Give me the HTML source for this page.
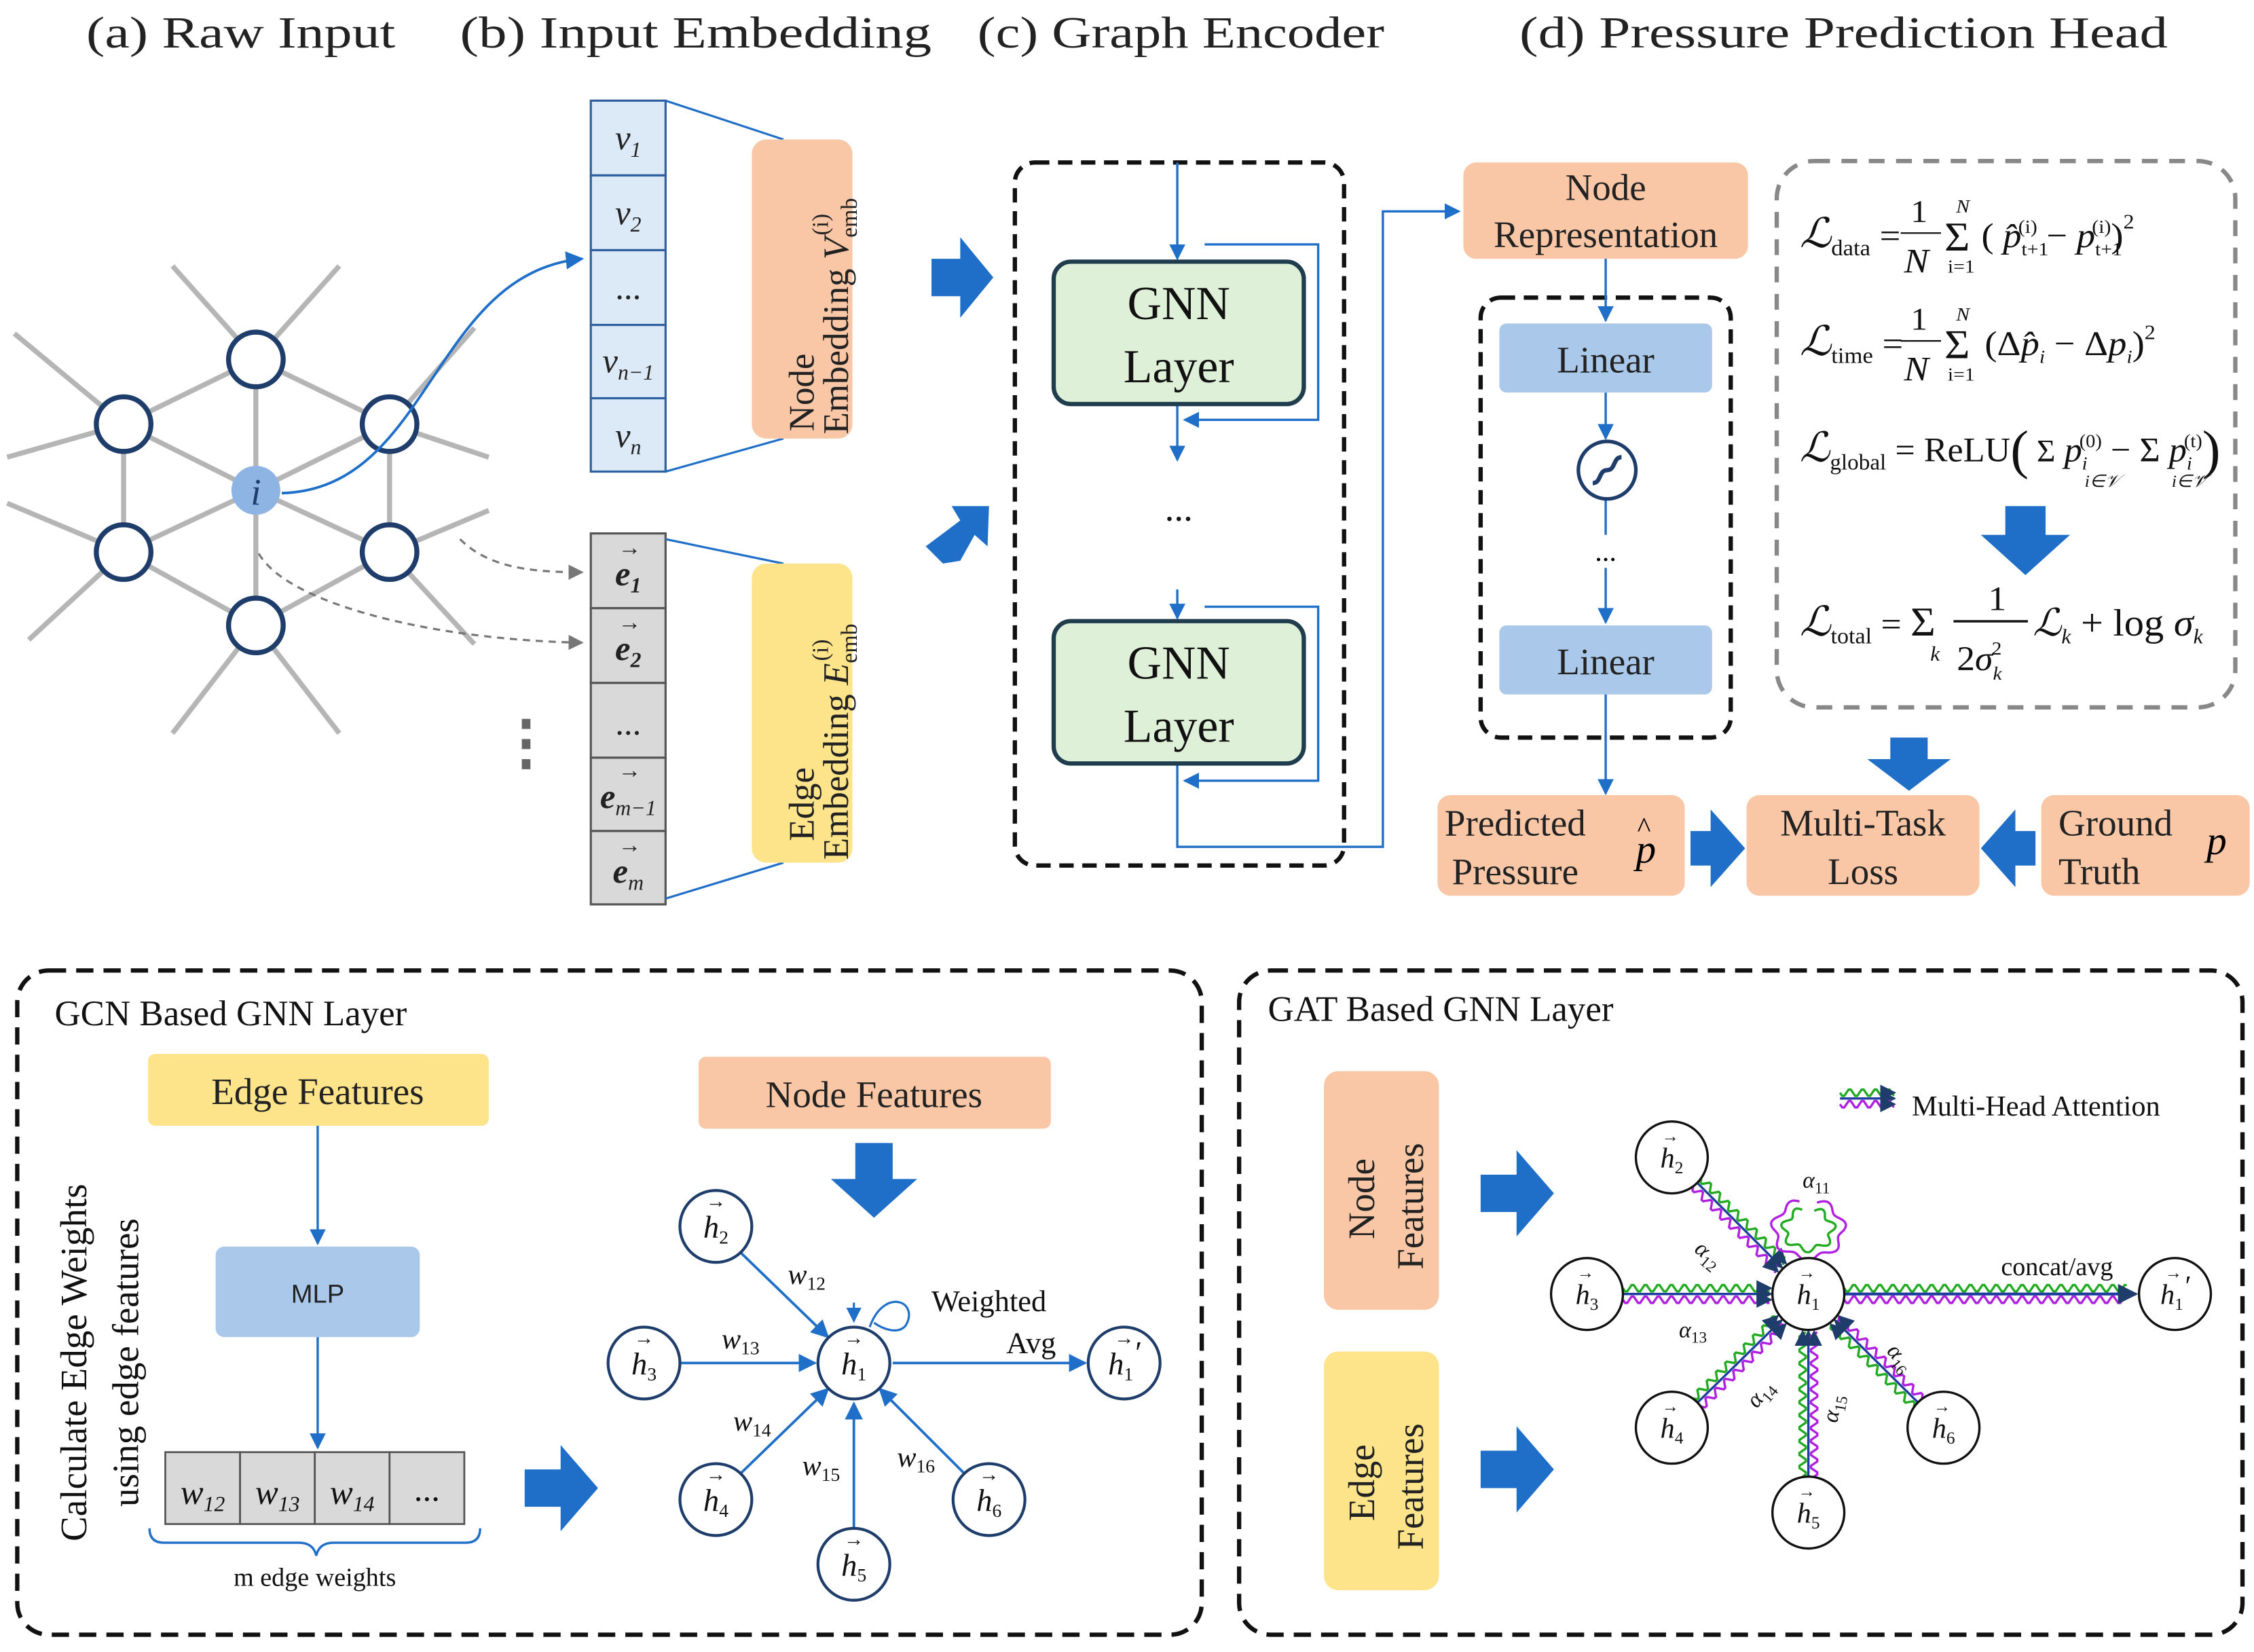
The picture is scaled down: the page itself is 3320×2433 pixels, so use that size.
<!DOCTYPE html>
<html><head><meta charset="utf-8">
<style>
html,body{margin:0;padding:0;background:#fff;}
svg{display:block;}
text{font-family:"Liberation Serif",serif;}
.t{font-size:31px;fill:#222;}
.m{font-family:"Liberation Serif",serif;font-style:italic;}
</style></head>
<body>
<svg id="s" width="3320" height="2433" viewBox="0 0 1568 1149" preserveAspectRatio="none" xmlns="http://www.w3.org/2000/svg">
<defs>
<marker id="ab" viewBox="0 0 10 10" refX="9" refY="5" markerWidth="7" markerHeight="7" orient="auto-start-reverse"><path d="M0,0 L10,5 L0,10 z" fill="#1f6fc8"/></marker>
<marker id="ad" viewBox="0 0 10 10" refX="9" refY="5" markerWidth="7" markerHeight="7" orient="auto"><path d="M0,0 L10,5 L0,10 z" fill="#1f3d6b"/></marker>
<marker id="ag" viewBox="0 0 10 10" refX="9" refY="5" markerWidth="7" markerHeight="7" orient="auto"><path d="M0,0 L10,5 L0,10 z" fill="#777"/></marker>
</defs>

<text x="60" y="33" class="t" textLength="215" lengthAdjust="spacingAndGlyphs">(a) Raw Input</text>
<text x="320" y="33" class="t" textLength="328" lengthAdjust="spacingAndGlyphs">(b) Input Embedding</text>
<text x="680" y="33" class="t" textLength="283" lengthAdjust="spacingAndGlyphs">(c) Graph Encoder</text>
<text x="1057" y="33" class="t" textLength="451" lengthAdjust="spacingAndGlyphs">(d) Pressure Prediction Head</text>

<g stroke="#b5b5b5" stroke-width="3.5">
<line x1="178" y1="341" x2="178" y2="250"/><line x1="178" y1="341" x2="86" y2="295"/><line x1="178" y1="341" x2="271" y2="295"/>
<line x1="178" y1="341" x2="86" y2="384"/><line x1="178" y1="341" x2="271" y2="384"/><line x1="178" y1="341" x2="178" y2="435"/>
<line x1="178" y1="250" x2="86" y2="295"/><line x1="178" y1="250" x2="271" y2="295"/><line x1="86" y1="295" x2="86" y2="384"/>
<line x1="271" y1="295" x2="271" y2="384"/><line x1="86" y1="384" x2="178" y2="435"/><line x1="271" y1="384" x2="178" y2="435"/>
<line x1="178" y1="250" x2="120" y2="185"/><line x1="178" y1="250" x2="236" y2="185"/>
<line x1="86" y1="295" x2="10" y2="232"/><line x1="86" y1="295" x2="5" y2="318"/>
<line x1="271" y1="295" x2="330" y2="228"/><line x1="271" y1="295" x2="340" y2="318"/>
<line x1="86" y1="384" x2="5" y2="350"/><line x1="86" y1="384" x2="20" y2="445"/>
<line x1="271" y1="384" x2="340" y2="355"/><line x1="271" y1="384" x2="330" y2="448"/>
<line x1="178" y1="435" x2="120" y2="510"/><line x1="178" y1="435" x2="236" y2="510"/>
</g>
<g fill="#fff" stroke="#1f3d6b" stroke-width="3.5">
<circle cx="178" cy="250" r="19"/><circle cx="86" cy="295" r="19"/><circle cx="271" cy="295" r="19"/>
<circle cx="86" cy="384" r="19"/><circle cx="271" cy="384" r="19"/><circle cx="178" cy="435" r="19"/>
</g>
<circle cx="178" cy="341" r="17" fill="#8eb4e3"/>
<text x="178" y="351" text-anchor="middle" class="m" font-size="26" fill="#1f3d6b">i</text>
<path d="M196,343 C300,340 300,190 405,180" fill="none" stroke="#1f6fc8" stroke-width="1.8" marker-end="url(#ab)"/>
<path d="M320,375 C340,395 370,398 405,398" fill="none" stroke="#777" stroke-width="1.5" stroke-dasharray="5,4" marker-end="url(#ag)"/>
<path d="M180,385 C200,420 300,445 405,447" fill="none" stroke="#777" stroke-width="1.5" stroke-dasharray="5,4" marker-end="url(#ag)"/>
<g fill="#666"><rect x="363" y="500" width="6" height="7"/><rect x="363" y="514" width="6" height="7"/><rect x="363" y="528" width="6" height="7"/></g>

<g stroke="#2e5f9e" stroke-width="1.5" fill="#dce9f6">
<rect x="411" y="70" width="52" height="52"/><rect x="411" y="122" width="52" height="52"/><rect x="411" y="174" width="52" height="52"/><rect x="411" y="226" width="52" height="51"/><rect x="411" y="277" width="52" height="51"/>
</g>
<g class="m" font-size="24" fill="#222" text-anchor="middle">
<text x="437" y="104">v<tspan font-size="15" dy="5">1</tspan></text>
<text x="437" y="156">v<tspan font-size="15" dy="5">2</tspan></text>
<text x="437" y="208" font-style="normal">...</text>
<text x="437" y="259">v<tspan font-size="15" dy="5">n−1</tspan></text>
<text x="437" y="311">v<tspan font-size="15" dy="5">n</tspan></text>
</g>
<line x1="463" y1="70" x2="545" y2="97" stroke="#1f6fc8" stroke-width="1.5"/>
<line x1="463" y1="328" x2="545" y2="305" stroke="#1f6fc8" stroke-width="1.5"/>
<rect x="523" y="97" width="70" height="208" rx="10" fill="#f9c7a6"/>
<text transform="translate(566,300) rotate(-90)" font-size="25" fill="#222">Node</text>
<text transform="translate(590,302) rotate(-90)" font-size="25" fill="#222">Embedding <tspan class="m">V</tspan><tspan font-size="16" dy="6">emb</tspan><tspan font-size="16" dy="-20" dx="-26">(i)</tspan></text>

<g stroke="#555" stroke-width="1.5" fill="#d9d9d9">
<rect x="411" y="371" width="52" height="52"/><rect x="411" y="423" width="52" height="52"/><rect x="411" y="475" width="52" height="52"/><rect x="411" y="527" width="52" height="51"/><rect x="411" y="578" width="52" height="51"/>
</g>
<g class="m" font-size="24" fill="#222" text-anchor="middle" font-weight="bold">
<text x="437" y="407">e<tspan font-size="15" dy="5">1</tspan></text>
<text x="437" y="459">e<tspan font-size="15" dy="5">2</tspan></text>
<text x="437" y="511" font-style="normal" font-weight="normal">...</text>
<text x="437" y="562">e<tspan font-size="15" dy="5" font-weight="normal">m−1</tspan></text>
<text x="437" y="614">e<tspan font-size="15" dy="5" font-weight="normal">m</tspan></text>
</g>
<g fill="#222" font-size="16"><text x="430" y="386">→</text><text x="430" y="438">→</text><text x="430" y="541">→</text><text x="430" y="593">→</text></g>
<line x1="463" y1="375" x2="545" y2="392" stroke="#1f6fc8" stroke-width="1.5"/>
<line x1="463" y1="625" x2="545" y2="600" stroke="#1f6fc8" stroke-width="1.5"/>
<rect x="523" y="392" width="70" height="208" rx="10" fill="#fde48a"/>
<text transform="translate(566,585) rotate(-90)" font-size="25" fill="#222">Edge</text>
<text transform="translate(590,598) rotate(-90)" font-size="25" fill="#222">Embedding <tspan class="m">E</tspan><tspan font-size="16" dy="6">emb</tspan><tspan font-size="16" dy="-20" dx="-26">(i)</tspan></text>

<g fill="#1f6fc8">
<polygon points="648,180 668,180 668,165 691,193 668,221 668,206 648,206"/>
<polygon points="656,392 644,380 668,362 662,352 688,352 687,380 678,372 668,390"/>
<polygon points="1176,578 1190,578 1190,563 1214,590 1190,617 1190,602 1176,602"/>
<polygon points="1416,578 1402,578 1402,563 1378,590 1402,617 1402,602 1416,602"/>
<polygon points="1315,513 1341,513 1341,528 1357,528 1328,550 1299,528 1315,528"/>
<polygon points="1395,352 1423,352 1423,372 1440,372 1409,400 1378,372 1395,372"/>
</g>

<rect x="706" y="113" width="229" height="489" rx="14" fill="none" stroke="#111" stroke-width="3" stroke-dasharray="10,6"/>
<g stroke="#1f6fc8" stroke-width="1.6" fill="none">
<line x1="819" y1="113" x2="819" y2="180" marker-end="url(#ab)"/>
<path d="M819,281 L819,320" marker-end="url(#ab)"/>
<path d="M838,170 L917,170 L917,292 L824,292" marker-end="url(#ab)"/>
<path d="M819,410 L819,430" marker-end="url(#ab)"/>
<path d="M838,422 L917,422 L917,543 L824,543" marker-end="url(#ab)"/>
<path d="M819,531 L819,589 L962,589 L962,147 L1015,147" marker-end="url(#ab)"/>
</g>
<rect x="733" y="182" width="174" height="99" rx="12" fill="#dff0d8" stroke="#1f3d4d" stroke-width="3"/>
<rect x="733" y="432" width="174" height="99" rx="12" fill="#dff0d8" stroke="#1f3d4d" stroke-width="3"/>
<g font-size="33" fill="#111" text-anchor="middle">
<text x="820" y="222">GNN</text><text x="820" y="266">Layer</text>
<text x="820" y="472">GNN</text><text x="820" y="516">Layer</text>
<text x="820" y="362" font-size="26">...</text>
</g>

<rect x="1018" y="113" width="198" height="67" rx="9" fill="#f9c7a6"/>
<text x="1117" y="139" font-size="26" text-anchor="middle" fill="#222">Node</text>
<text x="1117" y="172" font-size="26" text-anchor="middle" fill="#222">Representation</text>
<rect x="1030" y="207" width="174" height="306" rx="14" fill="none" stroke="#111" stroke-width="3" stroke-dasharray="10,6"/>
<g stroke="#1f6fc8" stroke-width="1.6" fill="none">
<line x1="1117" y1="180" x2="1117" y2="223" marker-end="url(#ab)"/>
<line x1="1117" y1="273" x2="1117" y2="305" marker-end="url(#ab)"/>
<line x1="1117" y1="348" x2="1117" y2="372"/>
<line x1="1117" y1="395" x2="1117" y2="433" marker-end="url(#ab)"/>
<line x1="1117" y1="483" x2="1117" y2="552" marker-end="url(#ab)"/>
</g>
<rect x="1043" y="225" width="148" height="48" rx="5" fill="#a9c8ea"/>
<rect x="1043" y="435" width="148" height="48" rx="5" fill="#a9c8ea"/>
<text x="1117" y="259" font-size="26" text-anchor="middle" fill="#222">Linear</text>
<text x="1117" y="469" font-size="26" text-anchor="middle" fill="#222">Linear</text>
<circle cx="1118" cy="327" r="20" fill="#fff" stroke="#1f3d6b" stroke-width="2.5"/>
<path d="M1108,336 C1114,336 1112,327 1118,327 C1124,327 1122,318 1128,318" fill="none" stroke="#1f3d6b" stroke-width="3"/>
<text x="1117" y="390" font-size="20" text-anchor="middle">...</text>

<rect x="1000" y="553" width="172" height="70" rx="9" fill="#f9c7a6"/>
<text x="1005" y="581" font-size="26" fill="#222">Predicted</text>
<text x="1010" y="615" font-size="26" fill="#222">Pressure</text>
<text x="1138" y="600" class="m" font-size="28">p</text><text x="1139" y="582" font-size="20">^</text>
<rect x="1215" y="553" width="162" height="70" rx="9" fill="#f9c7a6"/>
<text x="1296" y="581" font-size="26" text-anchor="middle" fill="#222">Multi-Task</text>
<text x="1296" y="615" font-size="26" text-anchor="middle" fill="#222">Loss</text>
<rect x="1420" y="553" width="145" height="70" rx="9" fill="#f9c7a6"/>
<text x="1432" y="581" font-size="26" fill="#222">Ground</text>
<text x="1432" y="615" font-size="26" fill="#222">Truth</text>
<text x="1535" y="594" class="m" font-size="28">p</text>

<rect x="1236" y="112" width="319" height="380" rx="26" fill="none" stroke="#888" stroke-width="3" stroke-dasharray="11,8"/>
<g fill="#111" font-size="22">
<g transform="translate(1252,172) scale(1.17,1.1) translate(-1252,-172)">
<text x="1252" y="172"><tspan class="m" font-size="26">ℒ</tspan><tspan font-size="14" dy="5">data</tspan><tspan dy="-5"> = </tspan></text>
<text x="1318" y="156" font-size="20">1</text><line x1="1312" y1="163" x2="1336" y2="163" stroke="#111"/><text x="1314" y="188" class="m">N</text>
<text x="1338" y="174" font-size="26">Σ</text><text x="1345" y="150" class="m" font-size="12">N</text><text x="1340" y="188" font-size="12">i=1</text>
<text x="1360" y="172">( <tspan class="m">p̂</tspan><tspan font-size="12" dy="5">t+1</tspan><tspan font-size="12" dy="-14" dx="-18">(i)</tspan><tspan dy="9"> − </tspan><tspan class="m">p</tspan><tspan font-size="12" dy="5">t+1</tspan><tspan font-size="12" dy="-14" dx="-18">(i)</tspan><tspan dy="9">)</tspan><tspan font-size="13" dy="-12">2</tspan></text>
</g>
<g transform="translate(1252,247) scale(1.17,1.1) translate(-1252,-247)">
<text x="1252" y="247"><tspan class="m" font-size="26">ℒ</tspan><tspan font-size="14" dy="5">time</tspan><tspan dy="-5"> = </tspan></text>
<text x="1318" y="231" font-size="20">1</text><line x1="1312" y1="238" x2="1336" y2="238" stroke="#111"/><text x="1314" y="263" class="m">N</text>
<text x="1338" y="249" font-size="26">Σ</text><text x="1345" y="225" class="m" font-size="12">N</text><text x="1340" y="263" font-size="12">i=1</text>
<text x="1362" y="247">(Δ<tspan class="m">p̂</tspan><tspan font-size="12" dy="5" class="m">i</tspan><tspan dy="-5"> − Δ</tspan><tspan class="m">p</tspan><tspan font-size="12" dy="5" class="m">i</tspan><tspan dy="-5">)</tspan><tspan font-size="13" dy="-10">2</tspan></text>
</g>
<g transform="translate(1252,321) scale(1.12,1.1) translate(-1252,-321)">
<text x="1252" y="321"><tspan class="m" font-size="26">ℒ</tspan><tspan font-size="14" dy="5">global</tspan><tspan dy="-5"> = ReLU</tspan><tspan font-size="34" dy="4">(</tspan><tspan dy="-4" font-size="20"> Σ</tspan><tspan class="m"> p</tspan><tspan font-size="12" dy="5" class="m">i</tspan><tspan font-size="12" dy="-14" dx="-5">(0)</tspan><tspan dy="9"> − Σ</tspan><tspan class="m"> p</tspan><tspan font-size="12" dy="5" class="m">i</tspan><tspan font-size="12" dy="-14" dx="-5">(t)</tspan><tspan font-size="34" dy="13">)</tspan></text>
<text x="1429" y="337" font-size="11" class="m">i∈𝒱</text><text x="1483" y="337" font-size="11" class="m">i∈𝒱</text>
</g>
<g transform="translate(1252,442) scale(1.15,1.1) translate(-1252,-442)">
<text x="1252" y="442"><tspan class="m" font-size="26">ℒ</tspan><tspan font-size="14" dy="5">total</tspan><tspan dy="-5"> = </tspan><tspan font-size="26">Σ</tspan></text>
<text x="1331" y="458" class="m" font-size="13">k</text>
<text x="1366" y="426" font-size="22">1</text><line x1="1345" y1="433" x2="1390" y2="433" stroke="#111" stroke-width="1.5"/><text x="1347" y="464">2<tspan class="m">σ</tspan><tspan font-size="12" dy="6" class="m">k</tspan><tspan font-size="12" dy="-16" dx="-6">2</tspan></text>
<text x="1393" y="442" font-size="24"><tspan class="m">ℒ</tspan><tspan font-size="13" dy="5" class="m">k</tspan><tspan dy="-5"> + log </tspan><tspan class="m">σ</tspan><tspan font-size="13" dy="5" class="m">k</tspan></text>
</g>
</g>

<rect x="12" y="675" width="824" height="462" rx="22" fill="none" stroke="#111" stroke-width="3" stroke-dasharray="12,7"/>
<text x="38" y="713" font-size="25" fill="#111">GCN Based GNN Layer</text>
<rect x="103" y="733" width="237" height="50" rx="5" fill="#fde48a"/>
<text x="221" y="768" font-size="26" text-anchor="middle" fill="#222">Edge Features</text>
<line x1="221" y1="783" x2="221" y2="865" stroke="#1f6fc8" stroke-width="1.6" marker-end="url(#ab)"/>
<rect x="150" y="867" width="142" height="63" rx="6" fill="#a9c8ea"/>
<text x="221" y="906" font-size="18" text-anchor="middle" fill="#222" style="font-family:'Liberation Sans',sans-serif">MLP</text>
<line x1="221" y1="930" x2="221" y2="1007" stroke="#1f6fc8" stroke-width="1.6" marker-end="url(#ab)"/>
<g fill="#d9d9d9" stroke="#555" stroke-width="1.3">
<rect x="115" y="1010" width="52" height="50"/><rect x="167" y="1010" width="52" height="50"/><rect x="219" y="1010" width="52" height="50"/><rect x="271" y="1010" width="52" height="50"/>
</g>
<g class="m" font-size="24" fill="#111" text-anchor="middle">
<text x="141" y="1046">w<tspan font-size="15" dy="5">12</tspan></text><text x="193" y="1046">w<tspan font-size="15" dy="5">13</tspan></text><text x="245" y="1046">w<tspan font-size="15" dy="5">14</tspan></text><text x="297" y="1044" font-style="normal">...</text>
</g>
<path d="M104,1063 Q104,1073 114,1073 L208,1073 Q218,1073 220,1082 Q222,1073 232,1073 L324,1073 Q334,1073 334,1063" fill="none" stroke="#1f6fc8" stroke-width="1.6"/>
<text x="219" y="1103" font-size="18" text-anchor="middle" fill="#111">m edge weights</text>
<text transform="translate(60,1072) rotate(-90)" font-size="26" fill="#111">Calculate Edge Weights</text>
<text transform="translate(96,1048) rotate(-90)" font-size="26" fill="#111">using edge features</text>
<polygon points="365,1022 390,1022 390,1005 416,1035 390,1065 390,1048 365,1048" fill="#1f6fc8"/>
<rect x="486" y="735" width="245" height="50" rx="5" fill="#f9c7a6"/>
<text x="608" y="770" font-size="26" text-anchor="middle" fill="#222">Node Features</text>
<polygon points="595,795 621,795 621,820 638,820 608,847 578,820 595,820" fill="#1f6fc8"/>
<g stroke="#1f6fc8" stroke-width="1.8">
<line x1="514" y1="870" x2="576" y2="930" marker-end="url(#ab)"/>
<line x1="473" y1="948" x2="567" y2="948" marker-end="url(#ab)"/>
<line x1="514" y1="1026" x2="576" y2="966" marker-end="url(#ab)"/>
<line x1="594" y1="1063" x2="594" y2="976" marker-end="url(#ab)"/>
<line x1="672" y1="1026" x2="612" y2="966" marker-end="url(#ab)"/>
<line x1="621" y1="948" x2="755" y2="948" marker-end="url(#ab)"/>
</g>
<path d="M605,923 C615,895 640,905 630,922 C625,928 615,925 608,920" fill="none" stroke="#1f6fc8" stroke-width="1.5"/>
<path d="M594,906 L594,919" stroke="#1f6fc8" stroke-width="1.5" marker-end="url(#ab)"/>
<g fill="#fff" stroke="#1f3d6b" stroke-width="2">
<circle cx="498" cy="853" r="25"/><circle cx="448" cy="948" r="25"/><circle cx="594" cy="948" r="25"/><circle cx="498" cy="1043" r="25"/><circle cx="594" cy="1088" r="25"/><circle cx="688" cy="1043" r="25"/><circle cx="782" cy="948" r="25"/>
</g>
<g class="m" font-size="22" fill="#111" text-anchor="middle">
<text x="498" y="861">h<tspan font-size="13" dy="4" font-style="normal">2</tspan></text>
<text x="448" y="956">h<tspan font-size="13" dy="4" font-style="normal">3</tspan></text>
<text x="594" y="956">h<tspan font-size="13" dy="4" font-style="normal">1</tspan></text>
<text x="498" y="1051">h<tspan font-size="13" dy="4" font-style="normal">4</tspan></text>
<text x="594" y="1096">h<tspan font-size="13" dy="4" font-style="normal">5</tspan></text>
<text x="688" y="1051">h<tspan font-size="13" dy="4" font-style="normal">6</tspan></text>
<text x="782" y="956">h<tspan font-size="13" dy="4" font-style="normal">1</tspan><tspan dy="-12">′</tspan></text>
</g>
<g font-size="14" fill="#111"><text x="491" y="840">→</text><text x="441" y="935">→</text><text x="587" y="935">→</text><text x="491" y="1030">→</text><text x="587" y="1075">→</text><text x="681" y="1030">→</text><text x="775" y="935">→</text></g>
<g class="m" font-size="20" fill="#111">
<text x="548" y="893">w<tspan font-size="13" dy="4" font-style="normal">12</tspan></text>
<text x="502" y="938">w<tspan font-size="13" dy="4" font-style="normal">13</tspan></text>
<text x="510" y="995">w<tspan font-size="13" dy="4" font-style="normal">14</tspan></text>
<text x="558" y="1026">w<tspan font-size="13" dy="4" font-style="normal">15</tspan></text>
<text x="624" y="1020">w<tspan font-size="13" dy="4" font-style="normal">16</tspan></text>
</g>
<text x="648" y="912" font-size="21" fill="#111">Weighted</text>
<text x="700" y="941" font-size="21" fill="#111">Avg</text>

<rect x="862" y="675" width="698" height="462" rx="22" fill="none" stroke="#111" stroke-width="3" stroke-dasharray="12,7"/>
<text x="882" y="710" font-size="25" fill="#111">GAT Based GNN Layer</text>
<rect x="921" y="745" width="80" height="166" rx="10" fill="#f9c7a6"/>
<text transform="translate(956,862) rotate(-90)" font-size="26" fill="#222">Node</text>
<text transform="translate(990,883) rotate(-90)" font-size="26" fill="#222">Features</text>
<rect x="921" y="940" width="80" height="166" rx="10" fill="#fde48a"/>
<text transform="translate(956,1058) rotate(-90)" font-size="26" fill="#222">Edge</text>
<text transform="translate(990,1078) rotate(-90)" font-size="26" fill="#222">Features</text>
<polygon points="1030,817 1055,817 1055,800 1081,830 1055,860 1055,843 1030,843" fill="#1f6fc8"/>
<polygon points="1030,1009 1055,1009 1055,992 1081,1022 1055,1052 1055,1035 1030,1035" fill="#1f6fc8"/>
<g id="waves"></g>
<line x1="1282" y1="900" x2="1486" y2="900" stroke="#1f3d9e" stroke-width="2" marker-end="url(#ad)"/>
<text x="1392" y="887" font-size="18" fill="#111">concat/avg</text>
<text x="1330" y="776" font-size="20" fill="#111">Multi-Head Attention</text>
<g fill="#fff" stroke="#111" stroke-width="1.6">
<circle cx="1163" cy="805" r="25"/><circle cx="1104" cy="900" r="25"/><circle cx="1258" cy="900" r="25"/><circle cx="1163" cy="993" r="25"/><circle cx="1258" cy="1052" r="25"/><circle cx="1352" cy="993" r="25"/><circle cx="1513" cy="900" r="25"/>
</g>
<g class="m" font-size="20" fill="#111" text-anchor="middle">
<text x="1163" y="812">h<tspan font-size="12" dy="4" font-style="normal">2</tspan></text>
<text x="1104" y="907">h<tspan font-size="12" dy="4" font-style="normal">3</tspan></text>
<text x="1258" y="907">h<tspan font-size="12" dy="4" font-style="normal">1</tspan></text>
<text x="1163" y="1000">h<tspan font-size="12" dy="4" font-style="normal">4</tspan></text>
<text x="1258" y="1059">h<tspan font-size="12" dy="4" font-style="normal">5</tspan></text>
<text x="1352" y="1000">h<tspan font-size="12" dy="4" font-style="normal">6</tspan></text>
<text x="1513" y="907">h<tspan font-size="12" dy="4" font-style="normal">1</tspan><tspan dy="-10">′</tspan></text>
</g>
<g font-size="12" fill="#111"><text x="1156" y="794">→</text><text x="1097" y="889">→</text><text x="1251" y="889">→</text><text x="1156" y="982">→</text><text x="1251" y="1041">→</text><text x="1345" y="982">→</text><text x="1506" y="889">→</text></g>
<g class="m" font-size="16" fill="#111">
<text x="1254" y="826">α<tspan font-size="11" dy="4" font-style="normal">11</tspan></text>
<text transform="translate(1178,870) rotate(40)">α<tspan font-size="11" dy="4" font-style="normal">12</tspan></text>
<text x="1168" y="930">α<tspan font-size="11" dy="4" font-style="normal">13</tspan></text>
<text transform="translate(1222,980) rotate(-50)">α<tspan font-size="11" dy="4" font-style="normal">14</tspan></text>
<text transform="translate(1278,990) rotate(-80)">α<tspan font-size="11" dy="4" font-style="normal">15</tspan></text>
<text transform="translate(1312,940) rotate(50)">α<tspan font-size="11" dy="4" font-style="normal">16</tspan></text>
</g>
</svg>
<script>
(function(){
var g=document.getElementById('waves'),NS='http://www.w3.org/2000/svg';
function wave(x1,y1,x2,y2,off,col,amp,per,arrow){
 var dx=x2-x1,dy=y2-y1,L=Math.hypot(dx,dy),ux=dx/L,uy=dy/L,nx=-uy,ny=ux;
 var d='';for(var t=0;t<=L;t+=1.5){var a=amp*Math.sin(t/per*2*Math.PI);var x=x1+ux*t+nx*(a+off),y=y1+uy*t+ny*(a+off);d+=(t?'L':'M')+x.toFixed(1)+','+y.toFixed(1);}
 var p=document.createElementNS(NS,'path');p.setAttribute('d',d);p.setAttribute('fill','none');p.setAttribute('stroke',col);p.setAttribute('stroke-width','1.6');g.appendChild(p);
 if(arrow){var l=document.createElementNS(NS,'line');l.setAttribute('x1',x2-ux*8+nx*off);l.setAttribute('y1',y2-uy*8+ny*off);l.setAttribute('x2',x2+nx*off);l.setAttribute('y2',y2+ny*off);l.setAttribute('stroke',col);l.setAttribute('stroke-width','1.6');l.setAttribute('marker-end','url(#ad)');g.appendChild(l);}
}
function tri(x1,y1,x2,y2){wave(x1,y1,x2,y2,-4,'#22aa22',2.5,9,true);wave(x1,y1,x2,y2,0,'#1f3d9e',0,9,true);wave(x1,y1,x2,y2,4,'#b020e0',2.5,9,true);}
var c=[1258,900],src=[[1163,805],[1104,900],[1163,993],[1258,1052],[1352,993]];
src.forEach(function(s){var dx=c[0]-s[0],dy=c[1]-s[1],L=Math.hypot(dx,dy);tri(s[0]+dx/L*25,s[1]+dy/L*25,c[0]-dx/L*26,c[1]-dy/L*26);});
wave(1283,900,1480,900,-4,'#22aa22',2.5,9,false);wave(1283,900,1480,900,4,'#b020e0',2.5,9,false);
wave(1280,764,1318,764,-4,'#22aa22',2.5,9,true);wave(1280,764,1318,764,0,'#1f3d9e',0,9,true);wave(1280,764,1318,764,4,'#b020e0',2.5,9,true);
[['#22aa22',14],['#b020e0',20]].forEach(function(o){var r=o[1],d='';for(var a=0;a<=330;a+=2){var rad=(a+105)*Math.PI/180,rr=r+2*Math.sin(a/8);var x=1258+rr*Math.cos(rad)*1.2,y=855-rr*Math.sin(rad);d+=(a?'L':'M')+x.toFixed(1)+','+y.toFixed(1);}var p=document.createElementNS(NS,'path');p.setAttribute('d',d);p.setAttribute('fill','none');p.setAttribute('stroke',o[0]);p.setAttribute('stroke-width','1.6');g.appendChild(p);});
})();
</script>
</body></html>
